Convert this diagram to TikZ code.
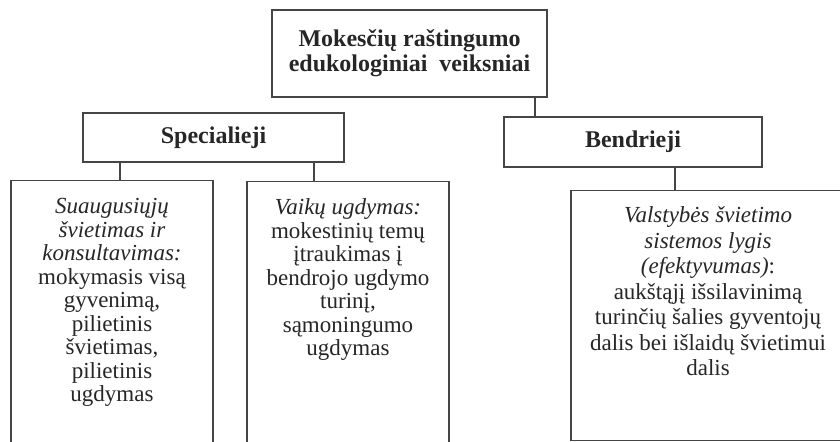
\documentclass[tikz,border=0pt]{standalone}
\usepackage{fontspec}
\setmainfont{Liberation Serif}
\definecolor{trait}{HTML}{454545}
\definecolor{encre}{HTML}{262626}
\tikzset{
	cadre/.style={draw=trait,line width=0.65pt,text=encre,inner sep=0pt,align=center,
		font=\fontsize{12}{12.5}\selectfont\bfseries},
	feuille/.style={draw=trait,line width=0.65pt,text=encre,inner sep=0pt,anchor=north},
	lien/.style={draw=trait,line width=0.65pt}
}
\begin{document}
\begin{tikzpicture}[x=0.5pt,y=-0.5pt]
%					Cadre de la figure :
					\useasboundingbox (0,0) rectangle (840,441);
					\clip (0,0) rectangle (840,441);
%					Boîtes du haut :
					\node[cadre,minimum width=137.5pt,minimum height=43.5pt] (veiksniai) at (409.5,53.5)
						{Mokesčių raštingumo\\edukologiniai\ \ veiksniai};
					\node[cadre,minimum width=130.5pt,minimum height=24.5pt] (specialieji) at (213.5,137.5) {Specialieji};
					\node[cadre,minimum width=129pt,minimum height=25pt] (bendrieji) at (633,142) {Bendrieji};
%					Boîtes du bas :
					\node[feuille] (suaugusiuju) at (112,180) {\parbox[t][140pt][t]{101pt}{\centering
						\fontsize{11.5}{11.75}\selectfont\vspace*{9pt}
						\textit{Suaugusiųjų}\\\textit{švietimas ir}\\\textit{konsultavimas:}\\
						mokymasis visą\\gyvenimą,\\pilietinis\\švietimas,\\pilietinis\\ugdymas}};
					\node[feuille] (vaiku) at (348,181) {\parbox[t][140pt][t]{101pt}{\centering
						\fontsize{11.5}{11.75}\selectfont\vspace*{8.5pt}
						\textit{Vaikų ugdymas:}\\mokestinių temų\\įtraukimas į\\bendrojo ugdymo\\
						turinį,\\sąmoningumo\\ugdymas}};
					\node[feuille] (valstybes) at (708,190) {\parbox[t][125pt][t]{137pt}{\centering
						\fontsize{11.5}{12.75}\selectfont\vspace*{8pt}
						\textit{Valstybės švietimo}\\\textit{sistemos lygis}\\\textit{(efektyvumas)}:\\
						aukštąjį išsilavinimą\\turinčių šalies gyventojų\\dalis bei išlaidų švietimui\\dalis}};
%					Liaisons :
					\coordinate (xa) at (535,0);
					\coordinate (xb) at (120,0);
					\coordinate (xc) at (314,0);
					\coordinate (xd) at (675,0);
					\draw[lien] (veiksniai.south -| xa) -- (bendrieji.north -| xa);
					\draw[lien] (specialieji.south -| xb) -- (suaugusiuju.north -| xb);
					\draw[lien] (specialieji.south -| xc) -- (vaiku.north -| xc);
					\draw[lien] (bendrieji.south -| xd) -- (valstybes.north -| xd);
\end{tikzpicture}
\end{document}
